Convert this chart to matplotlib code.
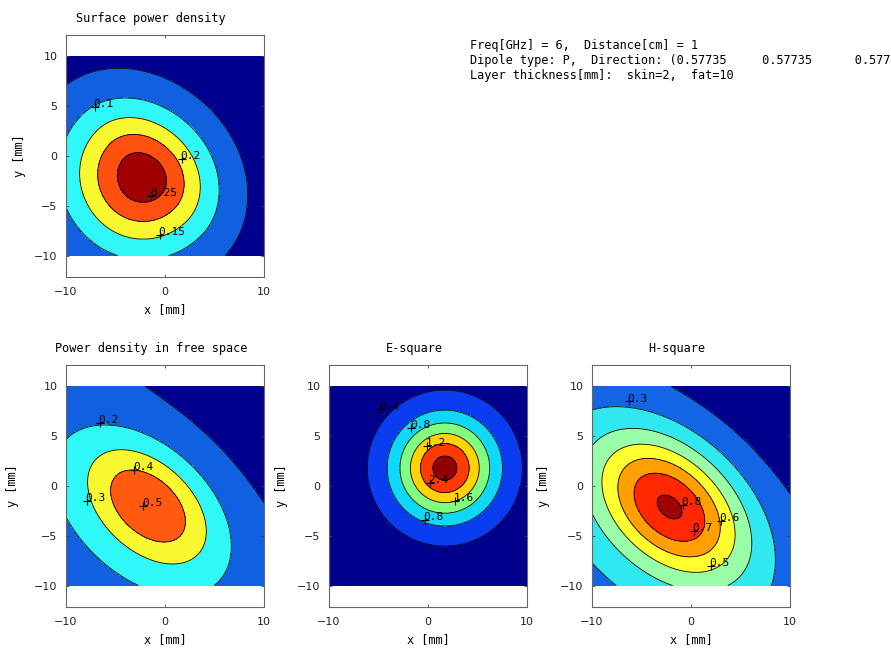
import numpy as np
import matplotlib
matplotlib.use("Agg")
import matplotlib.pyplot as plt

# sample grid of the field [mm]
x_mm = np.linspace(-10, 10, 241)
y_mm = np.linspace(-10, 10, 241)

titles = ["Surface power density", "Power density in free space", "E-square", "H-square"]

info_lines = [
    "Freq[GHz] = 6,  Distance[cm] = 1",
    "Dipole type: P,  Direction: (0.57735     0.57735      0.57735)",
    "Layer thickness[mm]:  skin=2,  fat=10",
]

# contour levels of each panel
levels_surface = [0.05, 0.1, 0.15, 0.2, 0.25]
levels_free = [0.1, 0.2, 0.3, 0.4, 0.5]
levels_e = [0.4, 0.8, 1.2, 1.6, 2.0, 2.4]
levels_h = [0.2, 0.3, 0.4, 0.5, 0.6, 0.7, 0.8]

# fill colours, lowest band first
colors_surface = ["#00008c", "#1060e0", "#30f8f8", "#f8f830", "#ff5010", "#a00000"]
colors_free = ["#00008c", "#1060e0", "#30f8f8", "#f8f830", "#ff5a10", "#a00000"]
colors_e = ["#00008c", "#0a3cf0", "#10d8f8", "#80ff80", "#ffd400", "#ff3c00", "#900000"]
colors_h = ["#00008c", "#1464e6", "#30e8f0", "#98ffa8", "#ffff30", "#ffa000", "#ff2800", "#a00000"]

# lobes that make up each map, matched to the picture:
# amplitude, centre x, centre y, spread back / forward along the axis,
# spread below / above the axis, axis angle [deg], tail m (0 = gaussian)
lobes_surface = [[0.28, -2.2, -2.1, 5.6, 5.3, 5.3, 4.45, -45, 3]]
lobes_free = [[0.36, -1.54, -1.87, 5.55, 5.55, 3.51, 3.51, -42, 0],
              [0.165, -20.1, 2.41, 1e4, 1e4, 17.2, 17.2, -46, 0]]
lobes_e = [[2.55, 1.7, 1.8, 3.46, 3.46, 3.46, 3.46, 0, 3]]
lobes_h = [[0.575, -2.06, -1.99, 6.19, 6.19, 4.04, 4.04, -41.9, 0],
           [0.267, 6.41, -22.0, 1e4, 1e4, 20.5, 20.5, -41.4, 0]]

# contour labels (text, x, y) as they sit in the picture
labels_surface = [("0.1", -7.1, 4.9), ("0.2", 1.7, -0.3), ("0.25", -1.4, -4.0), ("0.15", -0.5, -7.9)]
labels_free = [("0.2", -6.6, 6.3), ("0.4", -3.1, 1.6), ("0.3", -7.9, -1.5), ("0.5", -2.2, -2.0)]
labels_e = [("0.4", -4.8, 7.7), ("0.8", -1.7, 5.8), ("1.2", -0.1, 4.0), ("2.4", 0.2, 0.3),
            ("1.6", 2.7, -1.5), ("0.8", -0.3, -3.4)]
labels_h = [("0.3", -6.3, 8.5), ("0.8", -0.8, -1.9), ("0.6", 3.0, -3.5), ("0.7", 0.3, -4.5),
            ("0.5", 2.0, -8.0)]

MONO = "DejaVu Sans Mono"
X, Y = np.meshgrid(x_mm, y_mm)


def lobe(p):
    amp, cx, cy, su_b, su_f, sv_b, sv_a, ang, m = p
    t = np.radians(ang)
    dx, dy = X - cx, Y - cy
    u = dx * np.cos(t) + dy * np.sin(t)
    v = -dx * np.sin(t) + dy * np.cos(t)
    su = np.where(u > 0, su_f, su_b)
    sv = np.where(v > 0, sv_a, sv_b)
    q = (u / su) ** 2 + (v / sv) ** 2
    if m == 0:
        return amp * np.exp(-q / 2)
    return amp * (1 + q / (2 * m)) ** (-m)


fig = plt.figure(figsize=(8.91, 6.58), dpi=100)

W, H = 891, 658
boxes = [(66, 35), (66, 365), (329, 365), (592, 365)]   # left, top in pixels
ylabel_off = [-47, -54, -47, -49]

panels = [
    (lobes_surface, levels_surface, colors_surface, labels_surface),
    (lobes_free, levels_free, colors_free, labels_free),
    (lobes_e, levels_e, colors_e, labels_e),
    (lobes_h, levels_h, colors_h, labels_h),
]

for k, (lobes, lv, cols, labs) in enumerate(panels):
    left, top = boxes[k]
    ax = fig.add_axes([left / W, 1 - (top + 242) / H, 198 / W, 242 / H])
    Z = sum(lobe(p) for p in lobes)
    ax.contourf(X, Y, Z, levels=[-1] + lv + [100], colors=cols)
    ax.contour(X, Y, Z, levels=lv, colors="k", linewidths=0.6)

    for txt, lx, ly in labs:
        ax.plot(lx, ly, "+", color="k", ms=6, mew=0.8)
        ax.annotate(txt, (lx, ly), xytext=(-1, 2), textcoords="offset points",
                    ha="left", va="center", fontsize=8, family=MONO)

    ax.set_xlim(-10, 10)
    ax.set_ylim(-12.15, 12.15)
    ax.set_xticks([-10, 0, 10])
    ax.set_yticks([-10, -5, 0, 5, 10])
    ax.tick_params(direction="in", length=2, width=0.6, top=True, right=True,
                   labelsize=8, colors="#444444", labelcolor="#222222")
    ax.tick_params(axis="x", pad=7)
    ax.tick_params(axis="y", pad=6)
    for sp in ax.spines.values():
        sp.set_color("#666666")
        sp.set_linewidth(0.8)

    ax.text(0.43, 1.07, titles[k], transform=ax.transAxes, ha="center", va="center",
            fontsize=8.6, family=MONO)
    ax.text(0.5, -33 / 242, "x [mm]", transform=ax.transAxes, ha="center", va="center",
            fontsize=8.6, family=MONO)
    ax.text(ylabel_off[k] / 198, 0.5, "y [mm]", transform=ax.transAxes, ha="center",
            va="center", rotation=90, fontsize=8.6, family=MONO)

for i, line in enumerate(info_lines):
    fig.text(470 / W, 1 - (46 + 14.5 * i) / H, line, ha="left", va="center",
             fontsize=8.6, family=MONO)

fig.savefig("out.png", dpi=100)
